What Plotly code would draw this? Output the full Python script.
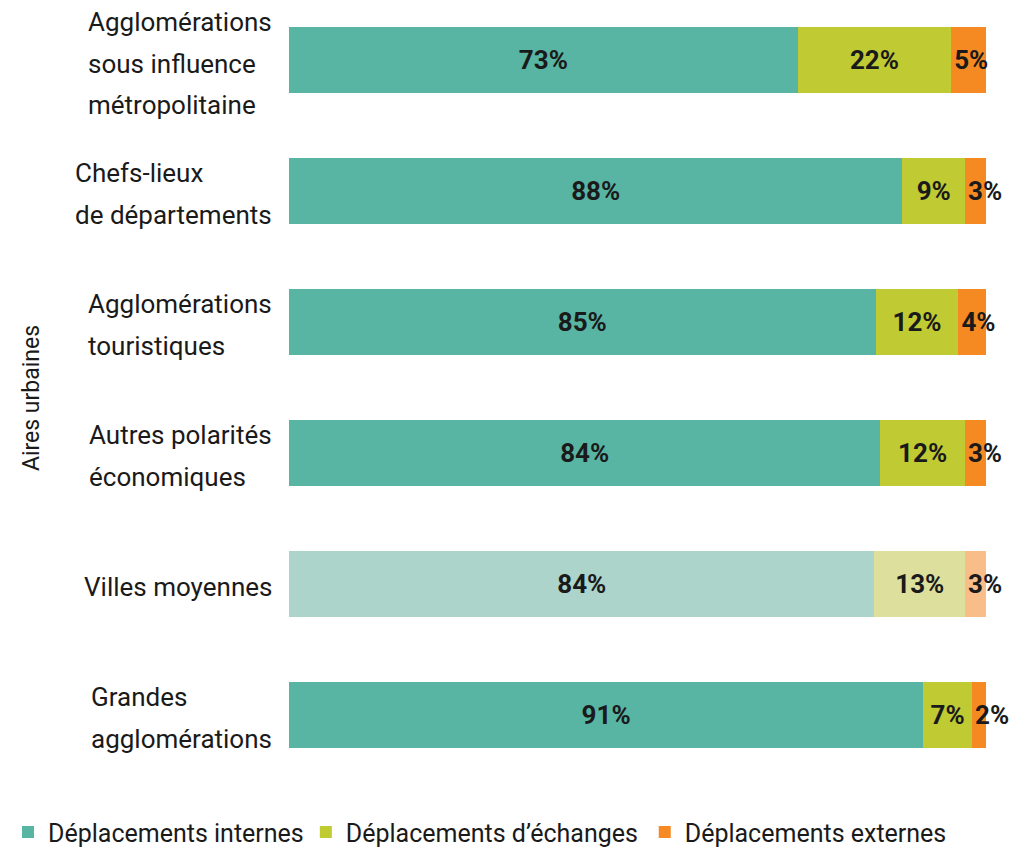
import plotly.graph_objects as go

# aires urbaines, du haut vers le bas
categories = ["Agglomérations<br>sous influence<br>métropolitaine",
              "Chefs-lieux<br>de départements",
              "Agglomérations<br>touristiques",
              "Autres polarités<br>économiques",
              "Villes moyennes",
              "Grandes<br>agglomérations"]

internes = [73, 88, 85, 84, 84, 91]
echanges = [22, 9, 12, 12, 13, 7]
externes = [5, 3, 4, 3, 3, 2]

series = ["Déplacements internes", "Déplacements d’échanges", "Déplacements externes"]

# couleurs pleines / couleurs pâles (Villes moyennes)
couleurs = ["#58b4a3", "#c0cb33", "#f58a23"]
pales = ["#acd4ca", "#dde09d", "#f9bd8a"]

FONT = "Roboto, sans-serif"
TXT = "#1a1a1a"

fig = go.Figure()
legendes = ["legend", "legend2", "legend3"]
for k, vals in enumerate([internes, echanges, externes]):
    cols = [pales[k] if c == "Villes moyennes" else couleurs[k] for c in categories]
    fig.add_trace(go.Bar(
        y=categories, x=vals, name=series[k], orientation="h",
        marker=dict(color=cols, line=dict(width=0)),
        text=[f"{v}%" for v in vals],
        textposition="inside",
        insidetextanchor="start" if k == 2 else "middle",
        textangle=0, constraintext="none", cliponaxis=False,
        textfont=dict(family=FONT, size=26, color=TXT, weight="bold"),
        legend=legendes[k],
    ))

# libellés des catégories, alignés à gauche (interligne large)
for c in categories:
    txt = "<br>".join(f'<span style="font-size:26px">{l}</span>' for l in c.split("<br>"))
    fig.add_annotation(x=0, xref="paper", xanchor="right", xshift=-15,
                       y=c, yref="y", yshift=-3, text=txt, showarrow=False, align="left",
                       font=dict(family=FONT, size=32, color=TXT))

fig.add_annotation(x=-0.370, xref="x domain", xanchor="center", y=0.5, yref="paper",
                   text="Aires urbaines", showarrow=False, textangle=-90,
                   font=dict(family=FONT, size=23, color=TXT))

leg = dict(orientation="h", xref="container", yref="container", y=0.02,
           xanchor="left", yanchor="middle", itemwidth=30,
           font=dict(family=FONT, size=25, color=TXT))

fig.update_layout(
    barmode="stack", barnorm="percent", bargap=0.5,
    width=1027, height=841,
    margin=dict(l=281, r=49, t=5, b=66),
    plot_bgcolor="white", paper_bgcolor="white",
    xaxis=dict(range=[0, 100], visible=False),
    yaxis=dict(showticklabels=False, showgrid=False, zeroline=False,
               range=[5.519, -0.359]),
    legend=dict(leg, x=-0.013),
    legend2=dict(leg, x=0.290),
    legend3=dict(leg, x=0.620),
    showlegend=True,
)

fig.write_html("out.html")
